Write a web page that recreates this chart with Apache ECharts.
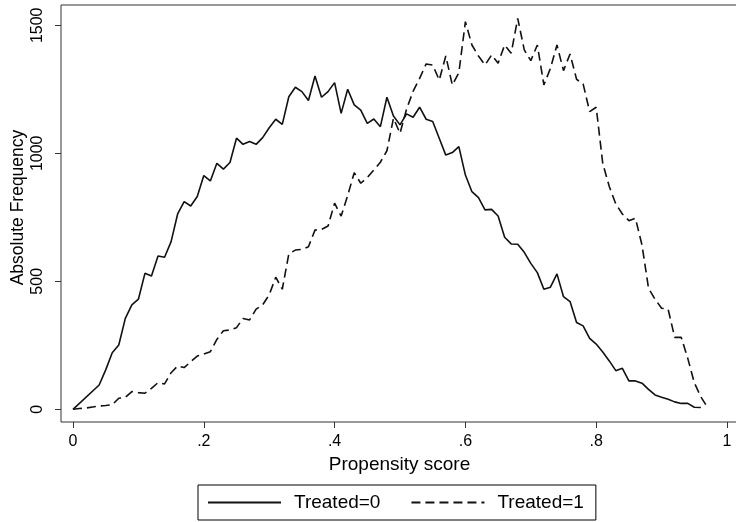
<!DOCTYPE html>
<html>
<head>
<meta charset="utf-8">
<script src="https://cdn.jsdelivr.net/npm/echarts@6/dist/echarts.min.js"></script>
<style>
  html, body { margin: 0; padding: 0; background: #fff; }
  #chart { width: 736px; height: 522px; }
</style>
</head>
<body>
<div id="chart"></div>
<script>
// Propensity score bins
var scoreBins = [0,0.01,0.02,0.03,0.04,0.05,0.06,0.07,0.08,0.09,
  0.10,0.11,0.12,0.13,0.14,0.15,0.16,0.17,0.18,0.19,
  0.20,0.21,0.22,0.23,0.24,0.25,0.26,0.27,0.28,0.29,
  0.30,0.31,0.32,0.33,0.34,0.35,0.36,0.37,0.38,0.39,
  0.40,0.41,0.42,0.43,0.44,0.45,0.46,0.47,0.48,0.49,
  0.50,0.51,0.52,0.53,0.54,0.55,0.56,0.57,0.58,0.59,
  0.60,0.61,0.62,0.63,0.64,0.65,0.66,0.67,0.68,0.69,
  0.70,0.71,0.72,0.73,0.74,0.75,0.76,0.77,0.78,0.79,
  0.80,0.81,0.82,0.83,0.84,0.85,0.86,0.87,0.88,0.89,
  0.90,0.91,0.92,0.93,0.94,0.95,0.96,0.97];

// Treated=0 frequencies
var untreated = [0,null,null,null,95,154,221,251,355,408,
  430,531,521,599,594,655,763,811,794,831,
  913,892,961,938,964,1059,1035,1046,1035,1061,
  1100,1133,1113,1221,1258,1241,1206,1302,1219,1241,
  1276,1156,1250,1189,1169,1117,1134,1104,1219,1146,
  1111,1154,1141,1180,1133,1124,1059,993,1003,1026,
  915,850,827,779,781,755,672,646,645,613,
  570,534,469,477,529,440,421,339,326,277,
  255,224,189,151,160,111,111,102,78,56,
  47,39,29,23,23,8,7,null];

// Treated=1 frequencies
var treated = [0,3,5,9,13,15,18,43,47,69,
  65,63,82,104,99,143,169,163,186,208,
  216,225,273,307,310,319,355,349,391,408,
  447,516,469,607,622,625,635,700,703,716,
  805,755,835,924,883,905,935,965,1010,1137,
  1078,1172,1242,1293,1349,1345,1286,1380,1267,1315,
  1514,1423,1380,1345,1384,1352,1423,1391,1527,1404,
  1362,1423,1267,1332,1423,1323,1388,1289,1271,1163,
  1180,961,870,802,763,737,746,642,473,430,
  395,391,281,281,199,104,49,8];

var xTickValues = [0, 0.2, 0.4, 0.6, 0.8, 1];
var xTickLabels = ['0', '.2', '.4', '.6', '.8', '1'];
var yTickValues = [0, 500, 1000, 1500];
var yTickLabels = ['0', '500', '1000', '1500'];

function pairs(xs, ys) {
  var out = [];
  for (var i = 0; i < xs.length; i++) out.push([xs[i], ys[i]]);
  return out;
}
function labelFor(values, labels) {
  return function (v) {
    for (var i = 0; i < values.length; i++) if (Math.abs(v - values[i]) < 1e-9) return labels[i];
    return '';
  };
}

var font = 'Liberation Sans, Arial, Helvetica, sans-serif';
var chart = echarts.init(document.getElementById('chart'), null, { renderer: 'canvas' });
chart.setOption({
  animation: false,
  backgroundColor: '#fff',
  textStyle: { fontFamily: font, color: '#000' },
  grid: {
    left: 61, top: 5, right: -2, bottom: 100,
    outerBoundsMode: 'none',
    containLabel: false,
    show: true, borderColor: '#333', borderWidth: 1, backgroundColor: 'transparent'
  },
  xAxis: {
    type: 'value',
    min: -0.01835, max: 1.01682,
    name: 'Propensity score',
    nameLocation: 'middle',
    nameGap: 32,
    nameTextStyle: { fontSize: 19, color: '#000', fontFamily: font },
    axisLine: { show: false, onZero: false },
    splitLine: { show: false },
    axisTick: { show: true, inside: false, customValues: xTickValues, length: 6, lineStyle: { color: '#333', width: 1 } },
    axisLabel: {
      customValues: xTickValues,
      margin: 12,
      fontSize: 16, color: '#000', fontFamily: font,
      formatter: labelFor(xTickValues, xTickLabels)
    }
  },
  yAxis: {
    type: 'value',
    min: -49.6, max: 1579.3,
    name: 'Absolute Frequency',
    nameLocation: 'middle',
    nameGap: 34,
    nameMoveOverlap: false,
    nameRotate: 90,
    nameTextStyle: { fontSize: 17.5, color: '#000', fontFamily: font, padding: [0, 0, 0, 12] },
    axisLine: { show: false, onZero: false },
    splitLine: { show: false },
    axisTick: { show: true, inside: false, customValues: yTickValues, length: 6, lineStyle: { color: '#333', width: 1 } },
    axisLabel: {
      customValues: yTickValues,
      rotate: 90,
      margin: 15,
      fontSize: 16, color: '#000', fontFamily: font,
      formatter: labelFor(yTickValues, yTickLabels)
    }
  },
  legend: {
    left: 198, top: 485,
    padding: [8, 12, 8, 9],
    itemWidth: 73, itemHeight: 14,
    itemGap: 30,
    borderColor: '#000', borderWidth: 1,
    itemStyle: { opacity: 0, borderWidth: 0 },
    textStyle: { fontSize: 19, color: '#000', fontFamily: font, padding: [0, 0, 0, 8] },
    data: ['Treated=0', 'Treated=1']
  },
  series: [
    {
      name: 'Treated=0', type: 'line',
      data: pairs(scoreBins, untreated),
      connectNulls: true,
      symbol: 'none', smooth: false,
      lineStyle: { color: '#111', width: 1.6, type: 'solid' },
      itemStyle: { color: '#111' }
    },
    {
      name: 'Treated=1', type: 'line',
      data: pairs(scoreBins, treated),
      connectNulls: true,
      symbol: 'none', smooth: false,
      lineStyle: { color: '#111', width: 1.6, type: [9, 5] },
      itemStyle: { color: '#111' }
    }
  ]
});
</script>
</body>
</html>
